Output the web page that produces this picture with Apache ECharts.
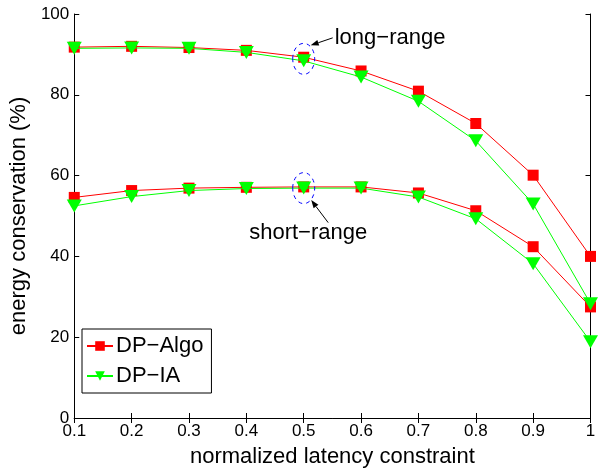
<!DOCTYPE html>
<html><head><meta charset="utf-8">
<script src="https://cdn.jsdelivr.net/npm/echarts@6/dist/echarts.min.js"></script>
<style>html,body{margin:0;padding:0;background:#fff}#c{width:602px;height:473px}</style>
</head><body><div id="c"></div>
<script>
var xValues = [0.1, 0.2, 0.3, 0.4, 0.5, 0.6, 0.7, 0.8, 0.9, 1.0];
var algoLong  = [91.8, 92.0, 91.7, 91.0, 89.3, 85.9, 80.9, 72.9, 60.1, 40.0];
var iaLong    = [91.5, 91.6, 91.5, 90.5, 88.4, 84.4, 78.4, 68.6, 53.0, 28.3];
var algoShort = [54.6, 56.3, 56.9, 57.1, 57.2, 57.2, 55.7, 51.3, 42.4, 27.5];
var iaShort   = [52.5, 54.8, 56.3, 56.8, 56.9, 56.9, 54.7, 49.3, 38.2, 18.9];
var yTicks = [0, 20, 40, 60, 80, 100];
var seriesNames = ['DP\u2212Algo', 'DP\u2212IA'];
var annoLong = {x: 0.5, y: 88.9, text: 'long\u2212range'};
var annoShort = {x: 0.5, y: 56.9, text: 'short\u2212range'};

function pairs(ys){ return xValues.map(function(x,i){ return [x, ys[i]]; }); }
var FONT = '"Liberation Sans", Arial, Helvetica, sans-serif';
var chart = echarts.init(document.getElementById('c'), null, {renderer:'canvas'});

function mkSeries(name, ys, isAlgo){
  return {
    name: name, type: 'line', data: pairs(ys),
    symbol: isAlgo ? 'rect' : 'triangle',
    symbolSize: isAlgo ? [11, 11] : [15, 13],
    symbolRotate: isAlgo ? 0 : 180,
    itemStyle: {color: isAlgo ? '#ff0000' : '#00ff00'},
    lineStyle: {color: isAlgo ? '#ff0000' : '#00ff00', width: 1},
    emphasis: {disabled: true}, animation: false, z: isAlgo ? 2 : 3
  };
}
var axisLine = {show: true, lineStyle: {color: '#000', width: 1}};
var tick = {show: true, inside: true, length: 5, lineStyle: {color: '#000'}};
var option = {
  animation: false,
  grid: {left: 72.5, right: 11.5, top: 14, bottom: 51, show: false},
  xAxis: [{
    type: 'value', min: 0.1, max: 1, interval: 0.1,
    name: 'normalized latency constraint', nameLocation: 'middle', nameGap: 28,
    nameTextStyle: {fontFamily: FONT, fontSize: 22, color: '#000'},
    axisLine: axisLine, axisTick: tick, splitLine: {show: false},
    axisLabel: {fontFamily: FONT, fontSize: 17, color: '#000', margin: 5,
      formatter: function(v){ return String(Math.round(v*10)/10); }}
  },{
    type: 'value', position: 'top', min: 0.1, max: 1, interval: 0.1,
    axisLine: axisLine, axisTick: tick, axisLabel: {show: false}, splitLine: {show: false}
  }],
  yAxis: [{
    type: 'value', min: yTicks[0], max: yTicks[yTicks.length-1], interval: 20,
    name: 'energy conservation (%)', nameLocation: 'middle', nameGap: 29,
    nameTextStyle: {fontFamily: FONT, fontSize: 22, color: '#000'},
    axisLine: axisLine, axisTick: tick, splitLine: {show: false},
    axisLabel: {fontFamily: FONT, fontSize: 17, color: '#000', margin: 5}
  },{
    type: 'value', position: 'right', min: 0, max: 100, interval: 20,
    axisLine: axisLine, axisTick: tick, axisLabel: {show: false}, splitLine: {show: false}
  }],
  legend: {
    left: 82, top: 329, orient: 'vertical',
    data: seriesNames,
    backgroundColor: '#fff', borderColor: '#000', borderWidth: 1, borderRadius: 0,
    padding: [6, 8, 6, 4], itemGap: 8, itemWidth: 26, itemHeight: 12,
    textStyle: {fontFamily: FONT, fontSize: 22, color: '#000', padding: [0,0,0,-2]}
  },
  series: [
    mkSeries(seriesNames[0], algoLong, true),
    mkSeries(seriesNames[1], iaLong, false),
    mkSeries(seriesNames[0], algoShort, true),
    mkSeries(seriesNames[1], iaShort, false)
  ]
};
chart.setOption(option);

function arrow(tail, tip){
  var dx = tip[0]-tail[0], dy = tip[1]-tail[1];
  var L = Math.sqrt(dx*dx+dy*dy), ux = dx/L, uy = dy/L;
  var hl = 8, hw = 3;
  var bx = tip[0]-ux*hl, by = tip[1]-uy*hl;
  return [
    {type:'line', shape:{x1:tail[0], y1:tail[1], x2:bx, y2:by}, style:{stroke:'#000', lineWidth:1}, z: 50},
    {type:'polygon', shape:{points:[[tip[0],tip[1]],[bx-uy*hw,by+ux*hw],[bx+uy*hw,by-ux*hw]]}, style:{fill:'#000'}, z: 50}
  ];
}
function anno(a, tipOff, tailOff, textPos, align){
  var c = chart.convertToPixel({xAxisIndex:0, yAxisIndex:0}, [a.x, a.y]);
  var els = [{type:'ellipse', shape:{cx:c[0], cy:c[1], rx:11, ry:15.5},
    style:{fill:null, stroke:'#0000ff', lineWidth:1, lineDash:[4,4]}, z: 50}];
  els = els.concat(arrow([c[0]+tailOff[0], c[1]+tailOff[1]], [c[0]+tipOff[0], c[1]+tipOff[1]]));
  els.push({type:'text', x:c[0]+textPos[0], y:c[1]+textPos[1],
    style:{text:a.text, fontFamily:FONT, fontSize:22, fill:'#000', align:align, verticalAlign:'middle'}, z: 50});
  return els;
}
var g = [].concat(
  anno(annoLong, [7, -13.5], [29, -21], [31, -21], 'left'),
  anno(annoShort, [7.5, 12], [24.5, 34.5], [4.5, 45], 'center')
);
chart.setOption({graphic: g});
</script></body></html>
